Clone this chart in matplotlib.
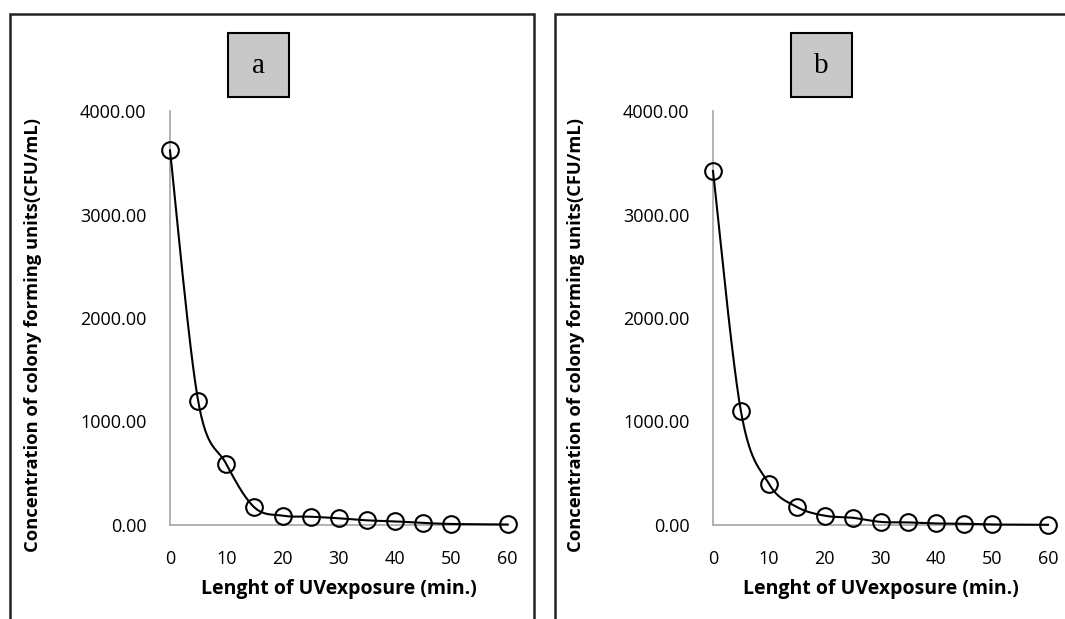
import matplotlib
matplotlib.use('Agg')
from matplotlib import pyplot as plt
from matplotlib.patches import Rectangle
import numpy as np

# exposure time (min) and CFU/mL
minutes = [0, 5, 10, 15, 20, 25, 30, 35, 40, 45, 50, 60]
cfu_a = [3620, 1200, 590, 170, 90, 80, 65, 45, 35, 20, 10, 5]
cfu_b = [3420, 1100, 400, 175, 90, 70, 30, 25, 15, 12, 5, 2]
y_ticks = [0, 1000, 2000, 3000, 4000]
x_ticks = [0, 10, 20, 30, 40, 50, 60]
panel_names = ['a', 'b']

plt.rcParams['font.family'] = ['Open Sans', 'DejaVu Sans']

W, H = 1065, 619


def smooth(xs, ys, n=30):
    # excel style smoothed line: cubic bezier with catmull-rom control points
    xs = np.asarray(xs, float)
    ys = np.asarray(ys, float)
    px, py = [], []
    for i in range(len(xs) - 1):
        i0 = max(i - 1, 0)
        i3 = min(i + 2, len(xs) - 1)
        c1x = xs[i] + (xs[i + 1] - xs[i0]) / 6
        c1y = ys[i] + (ys[i + 1] - ys[i0]) / 6
        c2x = xs[i + 1] - (xs[i3] - xs[i]) / 6
        c2y = ys[i + 1] - (ys[i3] - ys[i]) / 6
        t = np.linspace(0, 1, n)
        bx = (1-t)**3*xs[i] + 3*(1-t)**2*t*c1x + 3*(1-t)*t**2*c2x + t**3*xs[i+1]
        by = (1-t)**3*ys[i] + 3*(1-t)**2*t*c1y + 3*(1-t)*t**2*c2y + t**3*ys[i+1]
        px.extend(bx)
        py.extend(by)
    return px, py


def fx(p):
    return p / W


def fy(p):
    return 1 - p / H


fig = plt.figure(figsize=(W / 100, H / 100), dpi=100)

# outer frames of each panel (bottom / right run off the page)
fig.add_artist(Rectangle((fx(10), fy(640)), fx(534) - fx(10), fy(14) - fy(640),
                         transform=fig.transFigure, fill=False, edgecolor='#222222', lw=1.8))
fig.add_artist(Rectangle((fx(555), fy(640)), fx(1090) - fx(555), fy(14) - fy(640),
                         transform=fig.transFigure, fill=False, edgecolor='#222222', lw=1.8))

panels = [
    (cfu_a, 170, 507.6, 228, 289),
    (cfu_b, 713, 1048, 791, 852),
]

for k, (vals, x0, x1, bx0, bx1) in enumerate(panels):
    ax = fig.add_axes([fx(x0), fy(525), fx(x1) - fx(x0), fy(111) - fy(525)])
    sx, sy = smooth(minutes, vals)
    ax.plot(sx, sy, color='black', lw=1.5, clip_on=False, zorder=3)
    ax.plot(minutes, vals, linestyle='none', marker='o', markersize=12,
            markerfacecolor='none', markeredgecolor='black', markeredgewidth=1.5,
            clip_on=False, zorder=4)
    ax.set_xlim(0, 60)
    ax.set_ylim(0, 4000)
    ax.set_xticks(x_ticks)
    ax.set_yticks(y_ticks)
    ax.set_yticklabels(['%.2f' % v for v in y_ticks])
    ax.tick_params(length=0, labelsize=13, pad=17)
    ax.tick_params(axis='x', pad=18)
    for lab in ax.get_xticklabels() + ax.get_yticklabels():
        lab.set_fontweight('medium')
    for s in ['top', 'right']:
        ax.spines[s].set_visible(False)
    for s in ['left', 'bottom']:
        ax.spines[s].set_color('#a6a6a6')
        ax.spines[s].set_linewidth(1.2)
    ax.set_xlabel('Lenght of UVexposure (min.)', fontsize=14, fontweight='bold', labelpad=8)
    ax.set_ylabel('Concentration of colony forming units(CFU/mL)', fontsize=13.2,
                  fontweight='bold', labelpad=27)
    ax.yaxis.label.set_y(0.46)

    # panel letter box
    fig.add_artist(Rectangle((fx(bx0), fy(97)), fx(bx1) - fx(bx0), fy(33) - fy(97),
                             transform=fig.transFigure, facecolor='#c8c8c8',
                             edgecolor='black', lw=1.5))
    fig.text(fx((bx0 + bx1) / 2), fy(66), panel_names[k], fontsize=21,
             family='Liberation Serif', ha='center', va='center')

fig.savefig('out.png', dpi=100)
